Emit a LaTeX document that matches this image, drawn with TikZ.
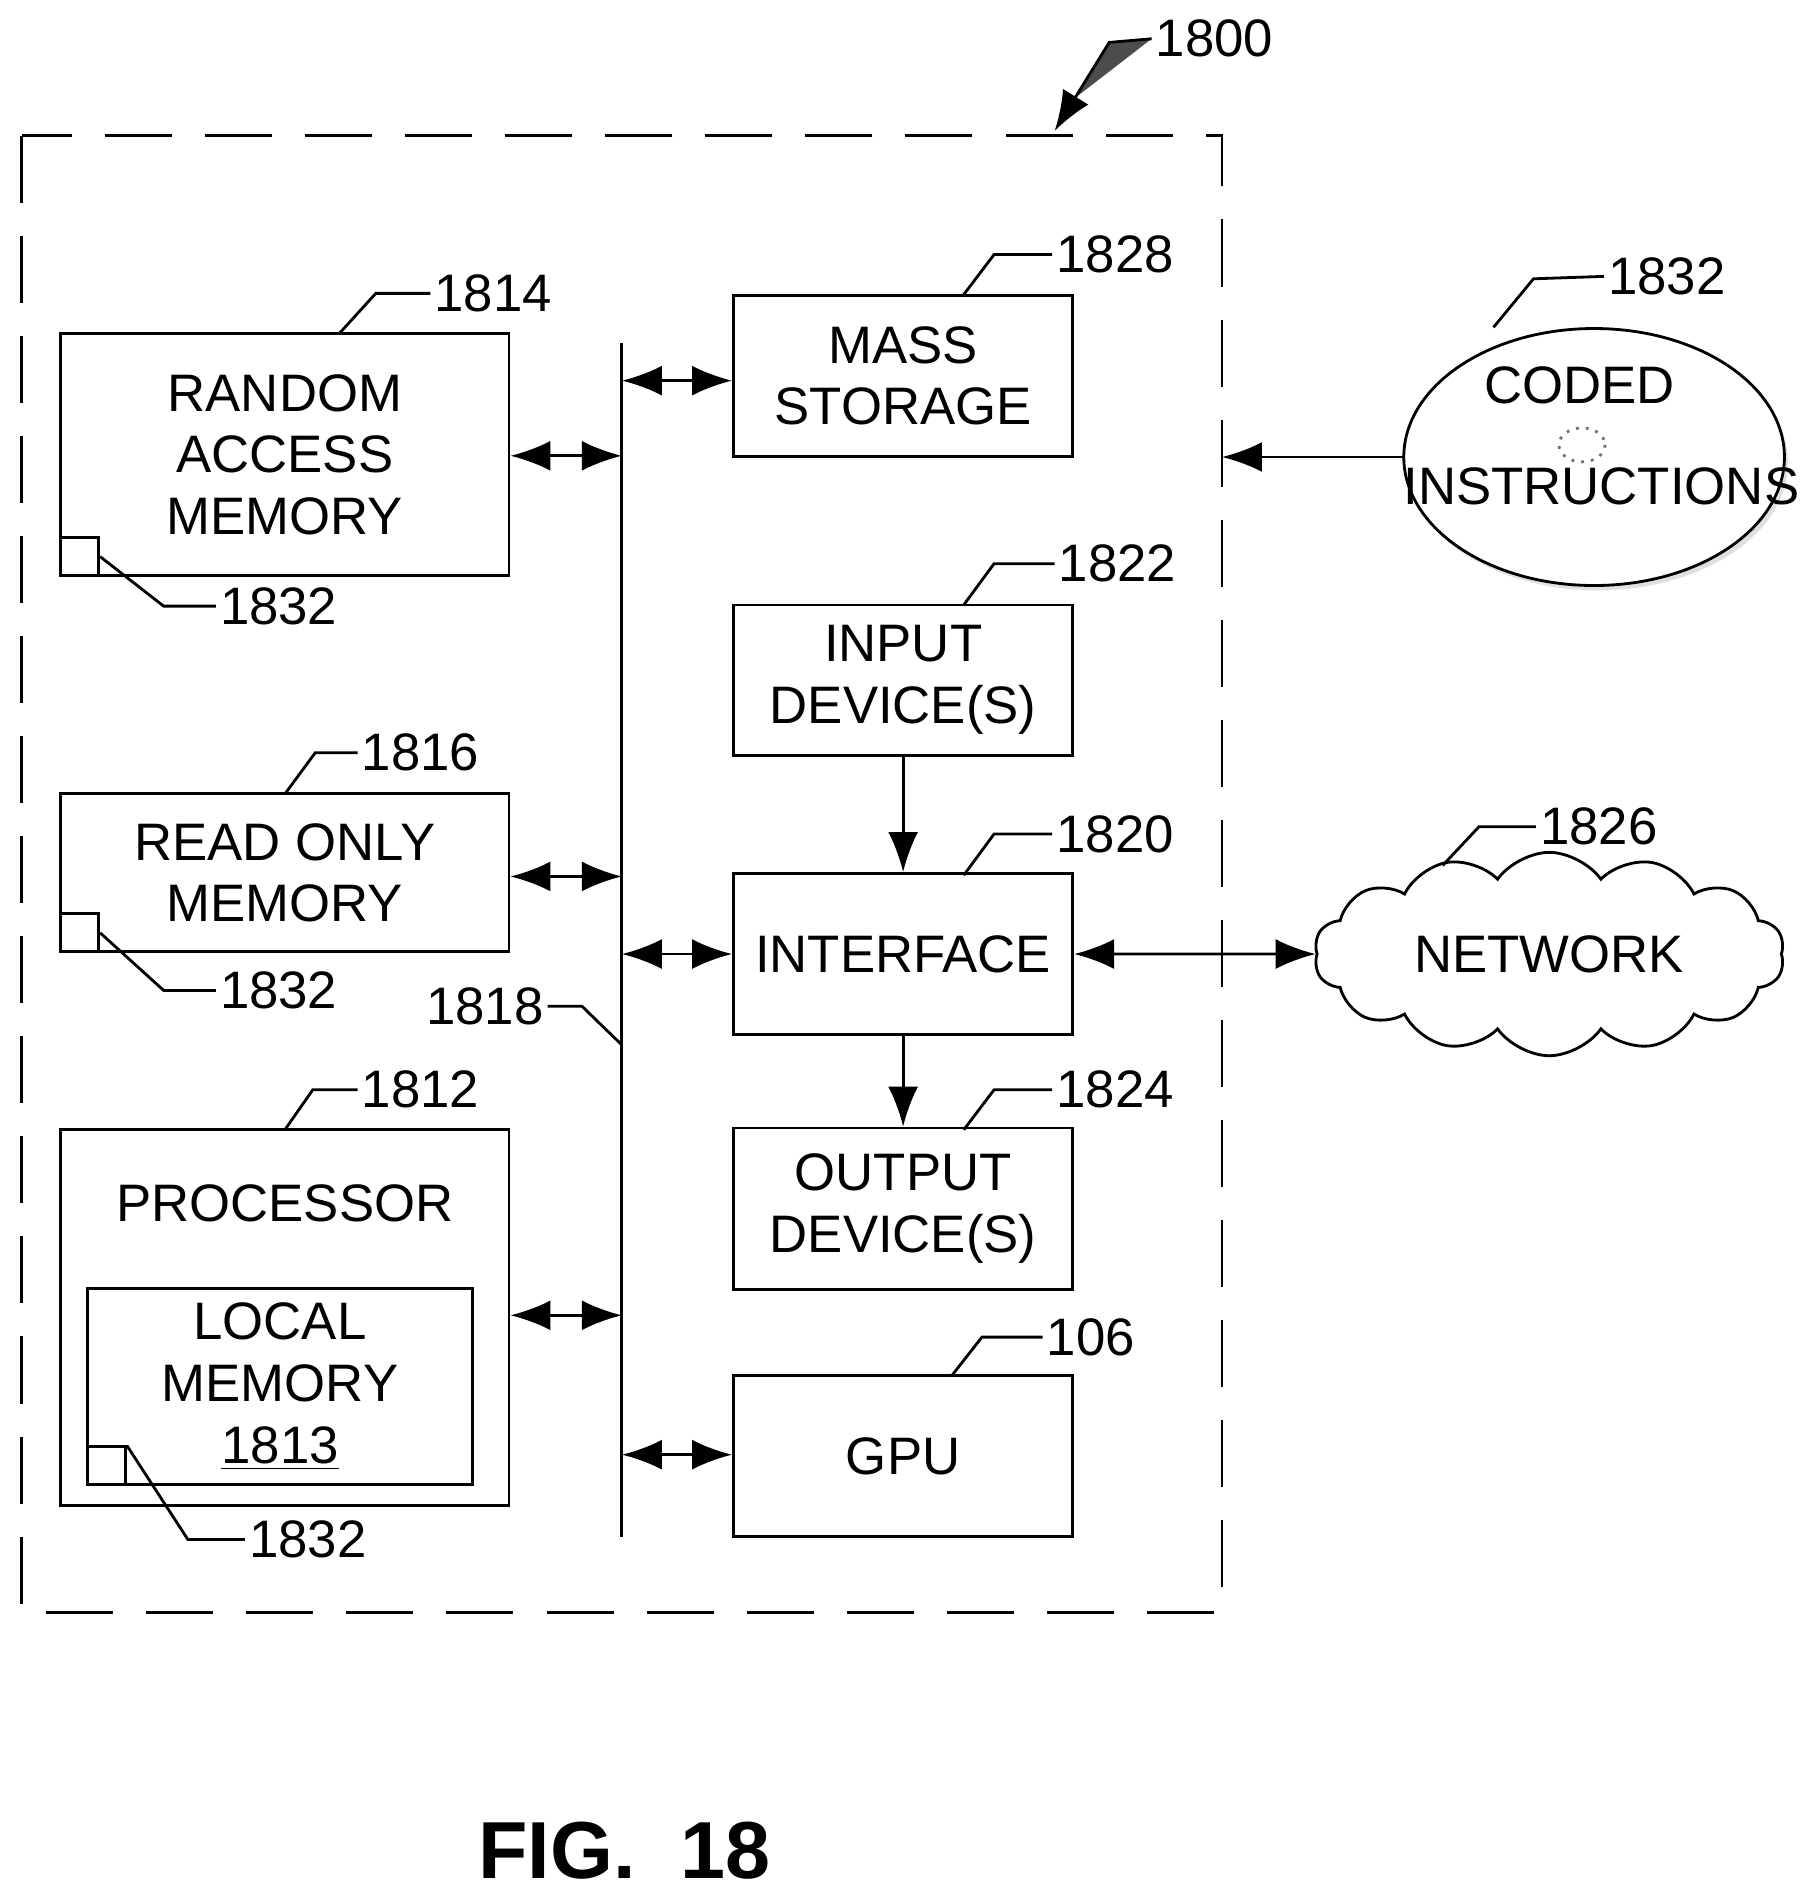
\documentclass[tikz,border=0pt]{standalone}
\usepackage{fontspec}
\setmainfont{Liberation Sans}
\usetikzlibrary{arrows.meta,calc,positioning,shapes.symbols}

\tikzset{
  box/.style={draw, thick, minimum width=3.39cm, minimum height=1.61cm, align=center, inner sep=0pt},
  lbox/.style={box, minimum width=4.48cm},
  sq/.style={draw, thick, minimum size=0.38cm, inner sep=0pt},
  lead/.style={thick},
  dbl/.style={thick, {Latex[length=0.4cm,width=0.3cm]}-{Latex[length=0.4cm,width=0.3cm]}, fill=black!70},
  one/.style={thick, -{Latex[length=0.4cm,width=0.3cm]}, fill=black!70},
  num/.style={anchor=west, inner sep=1pt}
}

\begin{document}
\begin{tikzpicture}[x=0.01212cm, y=-0.01212cm, font=\fontsize{15}{17.5}\selectfont]
  \useasboundingbox (0,0) rectangle (1490,1569);
  % outer dashed frame
  \draw[thick, dash pattern=on 0.67cm off 0.33cm] (18,112) rectangle (1008,1330);
  \node[num] (n1800) at (950,32) {1800};
  \draw[one] (n1800.west) -- (915,35) -- (870,108);

  % left column
  \node[lbox, minimum height=2.42cm] (ram) at (235,375) {RANDOM\\ACCESS\\MEMORY};
  \node[sq, anchor=south west] (ramsq) at (ram.south west) {};
  \node[lbox, minimum height=1.58cm] (rom) at (235,720) {READ ONLY\\MEMORY};
  \node[sq, anchor=south west] (romsq) at (rom.south west) {};
  \node[lbox, minimum height=3.76cm] (proc) at (235,1087) {};
  \node (proctxt) at (235,993) {PROCESSOR};
  \node[box, minimum width=3.85cm, minimum height=1.96cm] (lmem) at (231,1144) {LOCAL\\MEMORY\\\underline{1813}};
  \node[sq, anchor=south west] (lmsq) at (lmem.south west) {};

  % bus
  \coordinate (bustop) at (513,283);
  \coordinate (busbot) at (513,1268);
  \draw[thick] (bustop) -- (busbot);

  % right column
  \node[box] (mass) at (745,310) {MASS\\STORAGE};
  \node[box, minimum height=1.50cm] (input) at (745,561) {INPUT\\DEVICE(S)};
  \node[box] (iface) at (745,787) {INTERFACE};
  \node[box] (output) at (745,997) {OUTPUT\\DEVICE(S)};
  \node[box] (gpu) at (745,1201) {GPU};

  \node[cloud, draw, thick, cloud puffs=14, cloud puff arc=110, aspect=2.6,
        minimum width=4.7cm, minimum height=1.85cm] (net) at (1278,787) {NETWORK};

  % disc
  \fill[black!12] (1318,382) ellipse [x radius=157, y radius=105];
  \draw[thick, fill=white] (1315,377) ellipse [x radius=157, y radius=106];
  \draw[black!55, dotted, thick] (1305,367) ellipse [x radius=19, y radius=14];
  \node (disc) at (1315,377) {};
  \node (coded) at (1303,318) {CODED};
  \node (instr) at (1321,401) {INSTRUCTIONS};
  \coordinate (discl) at (1158,377);
  \coordinate (frame) at (1008,377);
  \draw[one] (discl) -- (frame);

  % connectors
  \draw[dbl] (ram.east |- 0,376) -- (513,376);
  \draw[dbl] (rom.east |- 0,723) -- (513,723);
  \draw[dbl] (proc.east |- 0,1085) -- (513,1085);
  \draw[dbl] (513,314) -- (mass.west |- 0,314);
  \draw[dbl] (513,787) -- (iface.west);
  \draw[dbl] (513,1200) -- (gpu.west |- 0,1200);
  \draw[one] (input) -- (iface);
  \draw[one] (iface) -- (output);
  \draw[dbl] (iface.east) -- (net.west);

  % reference numerals
  \node[num] (n1814) at (355,242) {1814};
  \draw[lead] (280,275) -- (310,242) -- (n1814.west);
  \node[num] (n1816) at (295,621) {1816};
  \draw[lead] (235,655) -- (260,621) -- (n1816.west);
  \node[num] (n1812) at (295,899) {1812};
  \draw[lead] (235,932) -- (258,899) -- (n1812.west);
  \node[num] (r1832a) at (178,500) {1832};
  \draw[lead] (ramsq.east) -- (135,500) -- (r1832a.west);
  \node[num] (r1832b) at (178,817) {1832};
  \draw[lead] (romsq.east) -- (135,817) -- (r1832b.west);
  \node[num] (r1832c) at (202,1270) {1832};
  \draw[lead] (lmsq.north east) -- (155,1270) -- (r1832c.west);
  \node[num] (n1818) at (348,830) {1818};
  \draw[lead] (n1818.east) -- (480,830) -- (513,862);
  \node[num] (n1828) at (868,210) {1828};
  \draw[lead] (795,243) -- (820,210) -- (n1828.west);
  \node[num] (n1822) at (870,465) {1822};
  \draw[lead] (795,499) -- (820,465) -- (n1822.west);
  \node[num] (n1820) at (868,688) {1820};
  \draw[lead] (795,722) -- (820,688) -- (n1820.west);
  \node[num] (n1824) at (868,899) {1824};
  \draw[lead] (795,932) -- (820,899) -- (n1824.west);
  \node[num] (n106) at (860,1103) {106};
  \draw[lead] (785,1135) -- (810,1103) -- (n106.west);
  \node[num] (n1826) at (1267,682) {1826};
  \draw[lead] (1190,714) -- (1220,682) -- (n1826.west);
  \node[num] (d1832) at (1323,228) {1832};
  \draw[lead] (1232,270) -- (1265,230) -- (d1832.west);

  \node[font=\fontsize{23}{26}\selectfont\bfseries] (fig) at (515,1527) {FIG.~~18};
\end{tikzpicture}
\end{document}
